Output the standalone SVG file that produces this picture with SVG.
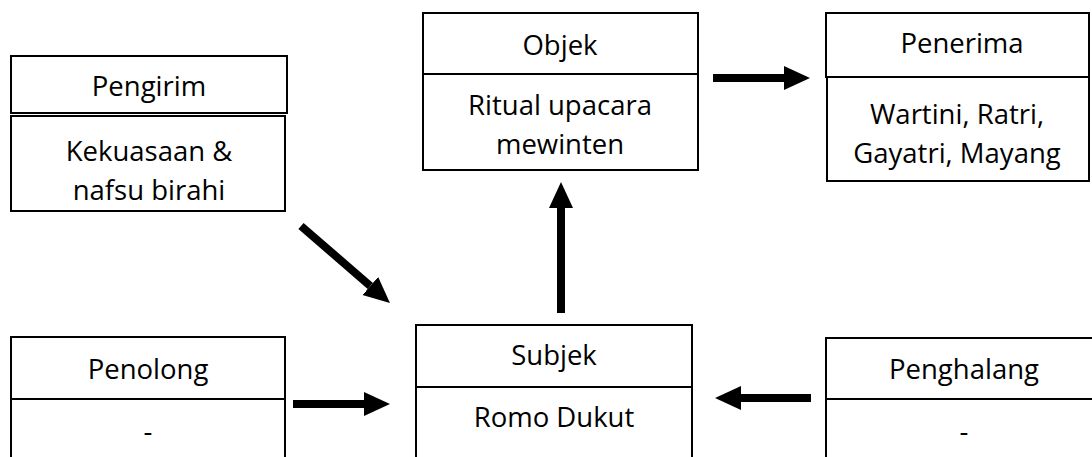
<svg xmlns="http://www.w3.org/2000/svg" width="1092" height="457" viewBox="0 0 1092 457">
<style>
.box{fill:#fff;stroke:#000;stroke-width:2}
.t{font-family:"Open Sans","Liberation Sans",sans-serif;font-size:27.5px;fill:#000;text-anchor:middle}
.arr{stroke:#000;stroke-width:8;fill:none;marker-end:url(#head)}
</style>
<defs>
<marker id="head" markerUnits="userSpaceOnUse" markerWidth="27" markerHeight="26" refX="0" refY="12" orient="auto">
<path d="M0,0 L26,12 L0,24 z" fill="#000"/>
</marker>
</defs>
<rect width="1092" height="457" fill="#fff"/>
<g id="pengirim">
<rect class="box" x="11" y="56" width="276" height="57"/>
<rect class="box" x="11" y="116" width="274" height="95"/>
<text class="t" x="149" y="96">Pengirim</text>
<text class="t" x="149" y="161">Kekuasaan &amp;</text>
<text class="t" x="149" y="200">nafsu birahi</text>
</g>
<g id="objek">
<rect class="box" x="423" y="13" width="275" height="157"/>
<line x1="423" y1="74" x2="698" y2="74" stroke="#000" stroke-width="2"/>
<text class="t" x="560" y="55">Objek</text>
<text class="t" x="560" y="115">Ritual upacara</text>
<text class="t" x="560" y="154">mewinten</text>
</g>
<g id="penerima">
<rect class="box" x="826" y="13" width="263" height="64"/>
<rect class="box" x="827" y="77" width="262" height="104"/>
<text class="t" x="962" y="53">Penerima</text>
<text class="t" x="957" y="124">Wartini, Ratri,</text>
<text class="t" x="957" y="163">Gayatri, Mayang</text>
</g>
<g id="penolong">
<rect class="box" x="11" y="337" width="274" height="130"/>
<line x1="11" y1="399" x2="285" y2="399" stroke="#000" stroke-width="2"/>
<text class="t" x="148" y="379">Penolong</text>
<text class="t" x="148" y="441">-</text>
</g>
<g id="subjek">
<rect class="box" x="416" y="325" width="276" height="142"/>
<line x1="416" y1="387" x2="692" y2="387" stroke="#000" stroke-width="2"/>
<text class="t" x="554" y="365">Subjek</text>
<text class="t" x="554" y="427">Romo Dukut</text>
</g>
<g id="penghalang">
<rect class="box" x="826" y="338" width="280" height="130"/>
<line x1="826" y1="399" x2="1106" y2="399" stroke="#000" stroke-width="2"/>
<text class="t" x="964" y="379">Penghalang</text>
<text class="t" x="964" y="441">-</text>
</g>
<g id="connectors">
<line class="arr" x1="713" y1="78" x2="784" y2="78"/>
<line class="arr" x1="301" y1="226" x2="370.3" y2="286"/>
<line class="arr" x1="561" y1="313" x2="561" y2="208"/>
<line class="arr" x1="293" y1="404" x2="364" y2="404"/>
<line class="arr" x1="811" y1="398" x2="741" y2="398"/>
</g>
</svg>
